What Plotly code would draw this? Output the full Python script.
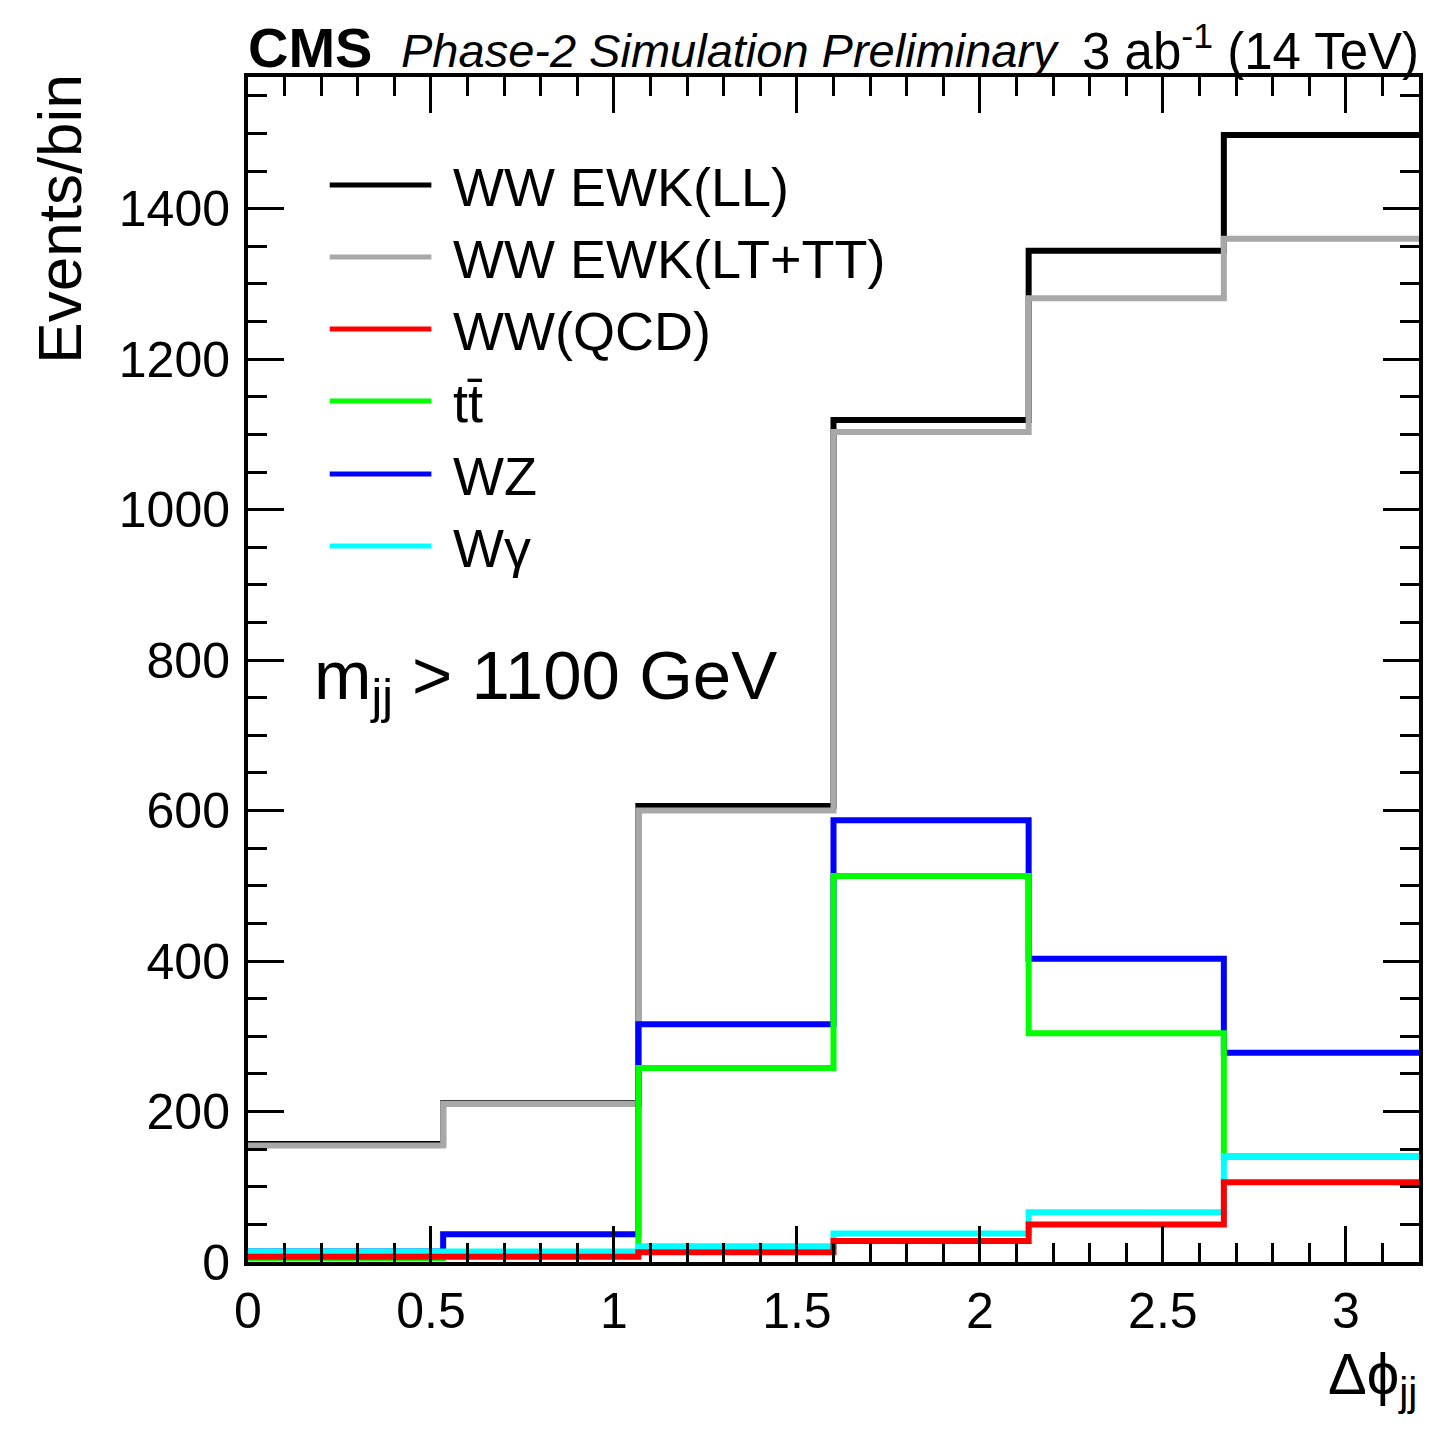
import plotly.graph_objects as go

# ---- data ----
bin_edges = [0.0, 0.5333, 1.0667, 1.6, 2.1333, 2.6667, 3.2]
ww_ewk_ll = [157, 211, 606, 1119, 1344, 1498]
ww_ewk_lttt = [155, 210, 600, 1103, 1281, 1360]
wz = [14, 37, 316, 587, 403, 278]
ttbar = [5, 12, 258, 513, 304, 140]
wgamma = [14, 14, 21, 38, 66, 141]
ww_qcd = [7, 7, 13, 28, 50, 106]

series_names = ["WW EWK(LL)", "WW EWK(LT+TT)", "WW(QCD)", "tt\u0304", "WZ", "Wγ"]
series_colors = ["#000000", "#a8a8a8", "#ff0000", "#00ff00", "#0000ff", "#00ffff"]

FONT = "Liberation Sans, Arial, Helvetica, sans-serif"
W, H = 1434, 1429
L, R, T, B = 248, 11, 77, 167
PW = W - L - R
PH = H - T - B


def px(x):
    return (x - L) / PW


def py(y):
    return (H - B - y) / PH


fig = go.Figure()

# drawing order: black, gray, blue, green, cyan, red
draw = [
    (ww_ewk_ll, series_names[0], series_colors[0]),
    (ww_ewk_lttt, series_names[1], series_colors[1]),
    (wz, series_names[4], series_colors[4]),
    (ttbar, series_names[3], series_colors[3]),
    (wgamma, series_names[5], series_colors[5]),
    (ww_qcd, series_names[2], series_colors[2]),
]
for vals, name, col in draw:
    fig.add_trace(go.Scatter(
        x=bin_edges, y=list(vals) + [vals[-1]],
        mode="lines", line=dict(shape="hv", color=col, width=6),
        name=name, showlegend=False, hoverinfo="skip",
    ))

# manual ROOT-style legend
leg_y = [185, 257, 329, 401, 474, 546]
shapes = []
annotations = []
for i, (name, col) in enumerate(zip(series_names, series_colors)):
    shapes.append(dict(type="line", xref="paper", yref="paper",
                       x0=px(330), x1=px(432), y0=py(leg_y[i]), y1=py(leg_y[i]),
                       line=dict(color=col, width=5)))
    annotations.append(dict(xref="paper", yref="paper", x=px(452), y=py(leg_y[i] + 2),
                            xanchor="left", yanchor="middle", showarrow=False,
                            text=name, font=dict(family=FONT, size=54, color="black")))

annotations += [
    dict(xref="paper", yref="paper", x=px(246), y=py(48), xanchor="left", yanchor="middle",
         showarrow=False, text="<b>CMS</b>", font=dict(family=FONT, size=56, color="black")),
    dict(xref="paper", yref="paper", x=px(400), y=py(50), xanchor="left", yanchor="middle",
         showarrow=False, text="<i>Phase-2 Simulation Preliminary</i>",
         font=dict(family=FONT, size=47, color="black")),
    dict(xref="paper", yref="paper", x=px(1425), y=py(48), xanchor="right", yanchor="middle",
         showarrow=False, text="3 ab<sup>-1</sup> (14 TeV)",
         font=dict(family=FONT, size=51, color="black")),
    dict(xref="paper", yref="paper", x=px(312), y=py(680), xanchor="left", yanchor="middle",
         showarrow=False, text="m<sub>jj</sub> > 1100 GeV",
         font=dict(family=FONT, size=69, color="black")),
    dict(xref="paper", yref="paper", x=px(1423), y=py(1378), xanchor="right", yanchor="middle",
         showarrow=False, text="Δϕ<sub>jj</sub>",
         font=dict(family=FONT, size=58, color="black")),
    dict(xref="paper", yref="paper", x=px(58), y=py(72), xanchor="center", yanchor="top",
         showarrow=False, text="Events/bin", textangle=-90,
         font=dict(family=FONT, size=62, color="black")),
]

axis_common = dict(
    showgrid=False, zeroline=False, showline=True, linecolor="black", linewidth=4,
    mirror="ticks", ticks="inside", ticklen=36, tickwidth=3, tickcolor="black",
    tickfont=dict(family=FONT, size=50, color="black"),
)

fig.update_xaxes(range=[0, 3.2], dtick=0.5, tick0=0,
                 minor=dict(ticks="inside", dtick=0.1, ticklen=19, tickwidth=3, tickcolor="black"),
                 ticklabelstandoff=2, **axis_common)
fig.update_yaxes(range=[0, 1575], dtick=200, tick0=0,
                 minor=dict(ticks="inside", dtick=50, ticklen=19, tickwidth=3, tickcolor="black"),
                 ticklabelstandoff=4, **axis_common)

fig.update_layout(
    width=W, height=H,
    margin=dict(l=L, r=R, t=T, b=B, pad=0),
    paper_bgcolor="white", plot_bgcolor="white",
    shapes=shapes, annotations=annotations,
    showlegend=False,
)

fig.write_html("out.html", config={"displayModeBar": False},
               post_script="document.body.style.margin='0';")
